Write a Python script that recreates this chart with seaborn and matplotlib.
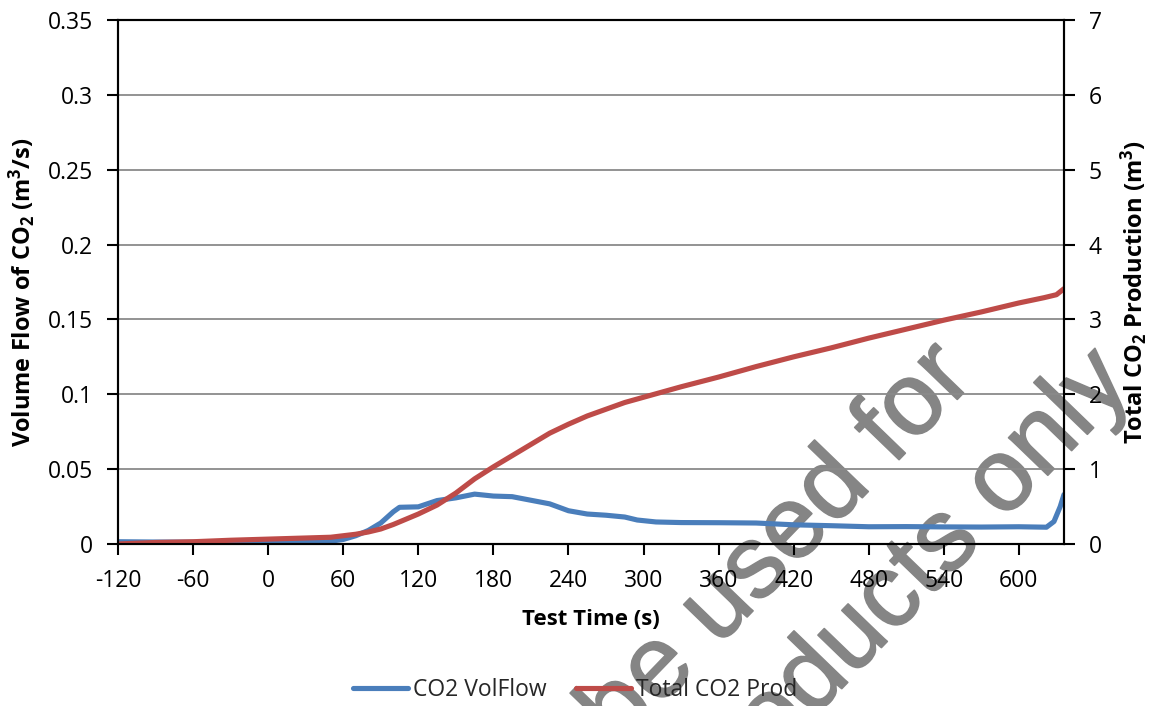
import matplotlib
matplotlib.use("Agg")
import matplotlib.pyplot as plt
import matplotlib.patheffects as pe
import numpy as np
import pandas as pd
import seaborn as sns

# ---- data ----
time_flow = [-120, -90, -60, -30, 0, 30, 45, 60, 70, 80, 90, 100, 105, 120, 135, 150,
             165, 180, 195, 210, 225, 240, 255, 270, 285, 295, 310, 330, 360, 390,
             420, 450, 480, 510, 540, 570, 600, 622, 628, 633, 636]
co2_volflow = [0.0015, 0.0013, 0.0012, 0.0010, 0.0010, 0.0010, 0.0013, 0.0030, 0.0055,
               0.0090, 0.0140, 0.0215, 0.0245, 0.0248, 0.0290, 0.0308, 0.0333, 0.0320,
               0.0316, 0.0292, 0.0268, 0.0222, 0.0200, 0.0192, 0.0180, 0.0160, 0.0147,
               0.0143, 0.0142, 0.0140, 0.0128, 0.0122, 0.0115, 0.0116, 0.0114, 0.0113,
               0.0115, 0.0112, 0.0150, 0.0250, 0.0330]

time_total = [-120, -90, -60, -30, 0, 30, 50, 60, 70, 80, 90, 100, 110, 120, 135, 150,
              165, 180, 195, 210, 225, 240, 255, 270, 285, 300, 330, 360, 390, 420,
              450, 480, 510, 540, 570, 600, 620, 630, 636]
total_co2_prod = [0.0, 0.02, 0.03, 0.05, 0.065, 0.08, 0.09, 0.11, 0.13, 0.16, 0.20, 0.26,
                  0.33, 0.40, 0.52, 0.68, 0.87, 1.03, 1.18, 1.33, 1.48, 1.60, 1.71, 1.80,
                  1.89, 1.96, 2.10, 2.23, 2.37, 2.50, 2.62, 2.75, 2.87, 2.99, 3.10, 3.22,
                  3.29, 3.33, 3.41]

x_ticks = [-120, -60, 0, 60, 120, 180, 240, 300, 360, 420, 480, 540, 600]
left_ticks = [0, 0.05, 0.1, 0.15, 0.2, 0.25, 0.3, 0.35]
left_tick_labels = ["0", "0.05", "0.1", "0.15", "0.2", "0.25", "0.3", "0.35"]
right_ticks = [0, 1, 2, 3, 4, 5, 6, 7]

series_names = ["CO2 VolFlow", "Total CO2 Prod"]
series_colors = ["#4A7EBB", "#BE4B48"]
watermark_lines = ["be used for", "products only"]

# ---- style ----
sns.set_theme(style="white")
plt.rcParams["font.family"] = ["Open Sans", "DejaVu Sans"]
plt.rcParams["mathtext.fontset"] = "custom"
plt.rcParams["mathtext.rm"] = "Open Sans"
plt.rcParams["mathtext.bf"] = "Open Sans:bold"
plt.rcParams["mathtext.it"] = "Open Sans:italic"

fig = plt.figure(figsize=(11.5, 7.06), dpi=100)
fig.patch.set_facecolor("white")
ax = fig.add_axes([0.1026, 0.2295, 0.8226, 0.7422])
ax.patch.set_visible(False)

df_flow = pd.DataFrame({"t": time_flow, "v": co2_volflow})
df_total = pd.DataFrame({"t": time_total, "v": total_co2_prod})

sns.lineplot(data=df_flow, x="t", y="v", ax=ax, color=series_colors[0], lw=3.7,
             label=series_names[0], legend=False)
ax2 = ax.twinx()
ax2.patch.set_visible(False)
sns.lineplot(data=df_total, x="t", y="v", ax=ax2, color=series_colors[1], lw=3.7,
             label=series_names[1], legend=False)

ax.set_xlim(-120, 636)
ax.set_ylim(0, 0.35)
ax2.set_ylim(0, 7)
ax.set_xticks(x_ticks)
ax.set_xticklabels([str(v) for v in x_ticks])
ax.set_yticks(left_ticks)
ax.set_yticklabels(left_tick_labels)
ax2.set_yticks(right_ticks)
ax2.set_yticklabels([str(v) for v in right_ticks])

ax.yaxis.grid(True, color="#8A8A8A", lw=1.3)
ax.xaxis.grid(False)
ax2.grid(False)
ax.set_axisbelow(True)

for a in (ax, ax2):
    for s in a.spines.values():
        s.set_visible(True)
        s.set_color("black")
        s.set_linewidth(1.5)

ax.tick_params(axis="both", which="major", direction="out", length=8, width=1.5,
               color="black", labelsize=16.5, labelcolor="black", pad=10,
               left=True, bottom=True)
ax2.tick_params(axis="y", which="major", direction="out", length=8, width=1.5,
                color="black", labelsize=16.5, labelcolor="black", pad=10, right=True)

ax.set_xlabel("Test Time (s)", fontsize=16, fontweight="bold", color="black", va="center")
ax.xaxis.set_label_coords(0.5, -0.145)
ax.set_ylabel(r"Volume Flow of CO$_\mathbf{2}$ (m$^\mathbf{3}$/s)", fontsize=17,
              fontweight="bold", color="black", va="center")
ax.yaxis.set_label_coords(-0.1015, 0.48)
ax2.set_ylabel(r"Total CO$_\mathbf{2}$ Production (m$^\mathbf{3}$)", fontsize=17,
               fontweight="bold", color="black", va="center", rotation=90)
ax2.yaxis.set_label_coords(1.075, 0.48)

h1, l1 = ax.get_legend_handles_labels()
h2, l2 = ax2.get_legend_handles_labels()
fig.legend(h1 + h2, l1 + l2, loc="center", bbox_to_anchor=(0.500, 0.023), ncol=2,
           frameon=False, fontsize=16.5, handlelength=2.4, handletextpad=0.2,
           columnspacing=1.3)

# watermark (drawn underneath the chart marks and texts)
wm_kw = dict(rotation=46, rotation_mode="anchor", ha="right", va="baseline",
             fontsize=74, color="#858585", family="Liberation Sans", zorder=-1,
             path_effects=[pe.Stroke(linewidth=1.2, foreground="#858585"), pe.Normal()])
fig.text(976 / 1150, 1 - 380 / 706, watermark_lines[0], **wm_kw)
fig.text(1134 / 1150, 1 - 386 / 706, watermark_lines[1], **wm_kw)

fig.savefig("out.png", dpi=100)
